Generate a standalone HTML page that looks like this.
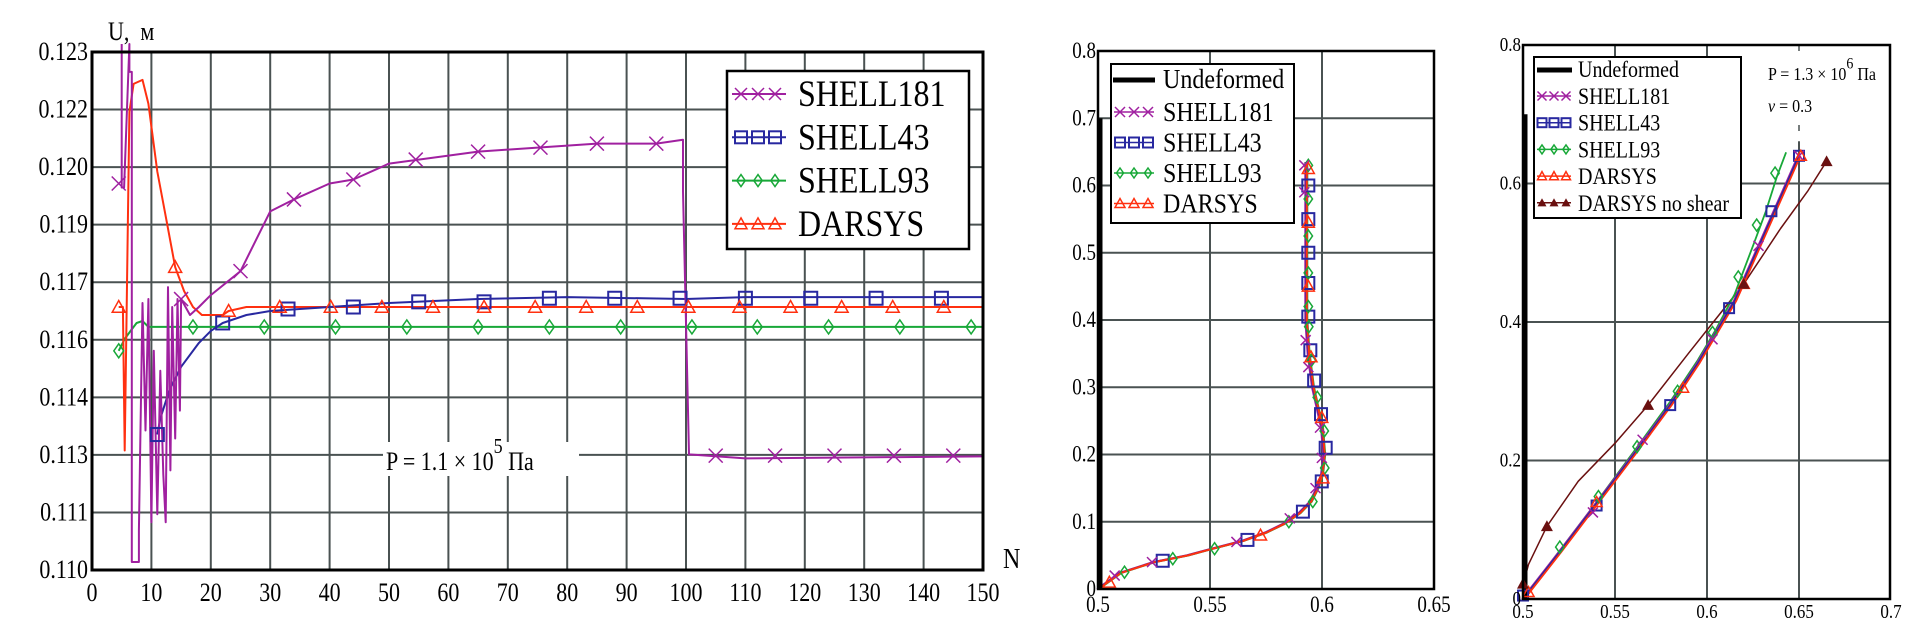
<!DOCTYPE html>
<html><head><meta charset="utf-8"><style>
html,body{margin:0;padding:0;background:#fff;width:1905px;height:633px;overflow:hidden}
svg{display:block}
text{font-family:"Liberation Serif","DejaVu Serif",serif;fill:#000}
</style></head><body>
<svg id="s" width="1905" height="633" xmlns="http://www.w3.org/2000/svg" font-family="Liberation Serif, serif"></svg>
<script>
const S=document.getElementById('s');let h='';
const P='#a020a0',B='#2828a0',G='#18a838',R='#ff3010',BR='#6a1010',GR='#4a5252';
const FF='font-family="Liberation Serif, serif"';
function line(x1,y1,x2,y2,c,w,extra){h+=`<line x1="${x1}" y1="${y1}" x2="${x2}" y2="${y2}" stroke="${c}" stroke-width="${w}" ${extra||''}/>`;}
function poly(pts,c,w){h+=`<polyline fill="none" stroke="${c}" stroke-width="${w}" stroke-linejoin="round" points="${pts.map(p=>p[0].toFixed(1)+','+p[1].toFixed(1)).join(' ')}"/>`;}
function txt(x,y,s,fs,anchor,sy,extra){h+=`<text ${FF} transform="translate(${x},${y}) scale(1,${sy||1.15})" font-size="${fs}" text-anchor="${anchor||'start'}" ${extra||''}>${s}</text>`;}
function mk(type,x,y,c,r){
 if(type=='x'){h+=`<path d="M${x-r},${y-r}L${x+r},${y+r}M${x-r},${y+r}L${x+r},${y-r}" stroke="${c}" stroke-width="1.5" fill="none"/>`;}
 else if(type=='s'){h+=`<rect x="${x-r}" y="${y-r}" width="${2*r}" height="${2*r}" stroke="${c}" stroke-width="2" fill="none"/>`;}
 else if(type=='d'){h+=`<path d="M${x},${y-r}L${x+r*0.7},${y}L${x},${y+r}L${x-r*0.7},${y}Z" stroke="${c}" stroke-width="1.5" fill="none"/>`;}
 else if(type=='t'){h+=`<path d="M${x},${y-r}L${x+r},${y+r*0.8}L${x-r},${y+r*0.8}Z" stroke="${c}" stroke-width="1.5" fill="none"/>`;}
 else if(type=='T'){h+=`<path d="M${x},${y-r}L${x+r},${y+r*0.8}L${x-r},${y+r*0.8}Z" fill="${c}"/>`;}
}
// ============ CHART 1 ============
const L1=92,R1=983,T1=52,B1=570;
const X1=n=>L1+n*(R1-L1)/150, Y1=u=>B1-(u-0.110)/0.013*(B1-T1);
for(let i=1;i<15;i++)line(X1(i*10),T1,X1(i*10),B1,GR,2);
for(let i=1;i<9;i++){const y=T1+i*(B1-T1)/9;line(L1,y,R1,y,GR,2);}
const c1=s=>s.map(p=>[X1(p[0]),Y1(p[1])]);
const purple=[[5,0.1232],[5,0.1196],[5.4,0.1196],[6.3,0.1232],[6.3,0.1225],[6.7,0.1225],[6.7,0.1102],[7.9,0.1102],[7.9,0.111],[8.5,0.1167],[9,0.1135],[9.5,0.1168],[10,0.1112],[10.4,0.1155],[11,0.1114],[11.5,0.115],[12,0.1124],[12.4,0.1112],[12.8,0.1171],[13.2,0.1125],[13.5,0.1166],[14,0.1133],[14.4,0.1168],[14.8,0.114],[15,0.1168],[16.5,0.1164],[18,0.1166],[20,0.1169],[25,0.1175],[30,0.1190],[34,0.1193],[40,0.1197],[44,0.1198],[50,0.1202],[55,0.1203],[65,0.1205],[75,0.1206],[85,0.1207],[95,0.1207],[99.5,0.1208],[99.5,0.1195],[100.5,0.1129],[110,0.1128],[150,0.11285]];
const blue=[[11,0.1134],[11.5,0.1138],[13,0.1145],[15,0.1151],[18,0.1157],[20,0.1160],[22,0.1162],[26,0.1164],[30,0.1165],[35,0.11655],[40,0.1166],[50,0.1167],[65,0.1168],[80,0.11685],[100,0.1168],[110,0.11685],[150,0.11685]];
const green=[[4.5,0.1155],[5.5,0.1158],[6.5,0.1160],[7.5,0.1162],[8.5,0.11625],[9.5,0.1161],[12,0.1161],[150,0.1161]];
const orange=[[4.5,0.1166],[5.2,0.1166],[5.5,0.1130],[6.3,0.1215],[7,0.1222],[8.5,0.1223],[9.5,0.1217],[11,0.1200],[12.5,0.1188],[14,0.1176],[15.5,0.1170],[17,0.1166],[18.5,0.1164],[20,0.1164],[22,0.1164],[23,0.1165],[26,0.1166],[30,0.1166],[150,0.1166]];
poly(c1(green),G,2);poly(c1(orange),R,2);poly(c1(blue),B,2);poly(c1(purple),P,2);
[4.5,15,25,34,44,54.5,65,75.5,85,95,105,115,125,135,145].forEach(n=>{const u=n<5?0.1197:n<18?0.1168:n<100?({25:0.1175,34:0.1193,44:0.1198,54.5:0.1203,65:0.1205,75.5:0.1206,85:0.1207,95:0.1207})[n]:0.11287;mk('x',X1(n),Y1(u),P,7);});
[11,22,33,44,55,66,77,88,99,110,121,132,143].forEach(n=>{const u=n==11?0.1134:n==22?0.1162:n==33?0.11655:n==44?0.1166:n<70?0.11673:0.11682;mk('s',X1(n),Y1(u),B,6.5);});
[4.5,17,29,41,53,65,77,89,101,112,124,136,148].forEach(n=>mk('d',X1(n),Y1(n<5?0.1155:0.1161),G,7));
[4.5,14].forEach((n,i)=>mk('t',X1(n),Y1(i?0.1176:0.1166),R,6.5));
for(let n=23;n<=150;n+=8.6)mk('t',X1(n),Y1(n<25?0.1165:0.1166),R,6.5);
h+=`<rect x="${L1}" y="${T1}" width="${R1-L1}" height="${B1-T1}" fill="none" stroke="#000" stroke-width="3"/>`;
['0.110','0.111','0.113','0.114','0.116','0.117','0.119','0.120','0.122','0.123'].forEach((s,i)=>txt(88,B1-i*(B1-T1)/9+8,s,22,'end',1.2));
for(let i=0;i<=15;i++)txt(X1(i*10),601,String(i*10),22,'middle',1.2);
txt(108,40,'U,&#160; м',22,'start',1.2);
txt(1003,568,'N',24,'start',1.2);
h+=`<rect x="383" y="442" width="196" height="34" fill="#fff"/>`;
h+=`<text ${FF} transform="translate(386,470) scale(1,1.2)" font-size="22">P = 1.1 × 10<tspan dy="-14" font-size="18">5</tspan><tspan dy="14"> Па</tspan></text>`;
h+=`<rect x="727" y="71" width="242" height="178" fill="#fff" stroke="#000" stroke-width="2.5"/>`;
const leg1=[['x',P,'SHELL181'],['s',B,'SHELL43'],['d',G,'SHELL93'],['t',R,'DARSYS']];
leg1.forEach((e,i)=>{const y=94+i*43.3;line(732,y,786,y,e[1],2);[741,758,775].forEach(x=>mk(e[0],x,y,e[1],6));txt(798,y+12,e[2],32,'start',1.15);});
// ============ CHART 2 ============
const L2=1098,R2=1434,T2=51,B2=589;
const X2=x=>L2+(x-0.5)/0.05*(R2-L2)/3, Y2=y=>B2-y*(B2-T2)/0.8;
[0.55,0.6].forEach(x=>line(X2(x),T2,X2(x),B2,GR,2));
for(let i=1;i<8;i++)line(L2,Y2(i/10),R2,Y2(i/10),GR,2);
const curve2=[[0.5,0],[0.51,0.024],[0.525,0.04],[0.54,0.05],[0.55,0.059],[0.565,0.072],[0.575,0.084],[0.583,0.097],[0.59,0.113],[0.595,0.13],[0.598,0.15],[0.6,0.17],[0.601,0.2],[0.6,0.24],[0.598,0.27],[0.596,0.3],[0.594,0.35],[0.593,0.4],[0.593,0.5],[0.593,0.6],[0.593,0.635]];
const c2=(s,dx)=>s.map(p=>[X2(p[0])+(dx||0),Y2(p[1])]);
poly(c2(curve2,1),G,2);poly(c2(curve2,-1),P,2);poly(c2(curve2,0),B,2);poly(c2(curve2,0.5),R,2);
line(L2+2,Y2(0),L2+2,Y2(0.7),'#000',5);
function at2(y){for(let i=1;i<curve2.length;i++){const a=curve2[i-1],b=curve2[i];if(y<=b[1]){const t=(y-a[1])/(b[1]-a[1]);return[X2(a[0]+t*(b[0]-a[0])),Y2(y)];}}return[X2(0.593),Y2(y)];}
[0.042,0.073,0.115,0.16,0.21,0.26,0.31,0.355,0.405,0.455,0.5,0.55,0.6].forEach(y=>{const p=at2(y);mk('s',p[0]+2,p[1],B,6);});
[0.025,0.045,0.06,0.1,0.13,0.18,0.235,0.285,0.34,0.39,0.42,0.47,0.525,0.58,0.63].forEach(y=>{const p=at2(y);mk('d',p[0]+2,p[1],G,6);});
[0.02,0.04,0.07,0.105,0.15,0.195,0.24,0.33,0.37,0.59,0.63].forEach(y=>{const p=at2(y);mk('x',p[0]-2,p[1],P,5);});
[0.01,0.08,0.165,0.255,0.345,0.45,0.545,0.625].forEach(y=>{const p=at2(y);mk('t',p[0]+2,p[1],R,6);});
h+=`<rect x="${L2}" y="${T2}" width="${R2-L2}" height="${B2-T2}" fill="none" stroke="#000" stroke-width="2.5"/>`;
['0','0.1','0.2','0.3','0.4','0.5','0.6','0.7','0.8'].forEach((s,i)=>txt(1096,Y2(i/10)+7,s,19,'end',1.2));
['0.5','0.55','0.6','0.65'].forEach((s,i)=>txt(L2+i*(R2-L2)/3,612,s,19,'middle',1.2));
h+=`<rect x="1111" y="64" width="183" height="159" fill="#fff" stroke="#000" stroke-width="2"/>`;
line(1113,80,1155,80,'#000',5);
txt(1163,88,'Undeformed',24,'start',1.15);
leg1.forEach((e,i)=>{const y=112+i*30.5;line(1114,y,1154,y,e[1],1.5);[1120,1134,1148].forEach(x=>mk(e[0],x,y,e[1],5));txt(1163,y+9,e[2],24,'start',1.15);});
// ============ CHART 3 ============
const L3=1523,R3=1890,T3=45,B3=599;
const X3=x=>L3+(x-0.5)/0.05*92, Y3=y=>B3-y*(B3-T3)/0.8;
[0.55,0.6].forEach(x=>line(X3(x),T3,X3(x),B3,GR,2));
line(X3(0.65),Y3(0.66),X3(0.65),B3,GR,2);line(X3(0.65),T3,X3(0.65),Y3(0.66),GR,1.5,'stroke-dasharray="6,10"');
[0.2,0.4,0.6].forEach(y=>line(L3,Y3(y),R3,Y3(y),GR,2));
const base3=[[0.5,0],[0.52,0.068],[0.54,0.138],[0.56,0.208],[0.58,0.28],[0.595,0.34],[0.605,0.385],[0.615,0.43],[0.625,0.49],[0.635,0.55],[0.645,0.61],[0.65,0.64]];
const green3=[[0.5,0],[0.52,0.07],[0.54,0.14],[0.56,0.212],[0.58,0.285],[0.595,0.345],[0.605,0.39],[0.615,0.44],[0.625,0.51],[0.632,0.56],[0.638,0.61],[0.643,0.645]];
const brown3=[[0.5,0],[0.5,0.02],[0.503,0.05],[0.513,0.105],[0.53,0.17],[0.55,0.225],[0.568,0.28],[0.59,0.355],[0.605,0.405],[0.62,0.455],[0.64,0.535],[0.655,0.59],[0.665,0.632]];
const c3=(s,dx)=>s.map(p=>[X3(p[0])+(dx||0),Y3(p[1])]);
poly(c3(brown3),BR,1.5);poly(c3(green3),G,1.8);poly(c3(base3,-1),P,1.8);poly(c3(base3,0),B,1.8);poly(c3(base3,1.5),R,1.8);
line(L3+2,Y3(0),L3+2,Y3(0.7),'#000',5);
[[0.5,0.005],[0.54,0.135],[0.58,0.28],[0.612,0.42],[0.635,0.56],[0.65,0.64]].forEach(p=>mk('s',X3(p[0]),Y3(p[1]),B,5));
[[0.52,0.075],[0.541,0.148],[0.562,0.22],[0.584,0.3],[0.603,0.385],[0.617,0.465],[0.627,0.54],[0.637,0.615]].forEach(p=>mk('d',X3(p[0]),Y3(p[1]),G,6));
[[0.538,0.125],[0.565,0.23],[0.603,0.375],[0.628,0.51],[0.65,0.64]].forEach(p=>mk('x',X3(p[0]),Y3(p[1]),P,5));
[[0.503,0.01],[0.54,0.14],[0.587,0.305],[0.62,0.455],[0.651,0.64]].forEach(p=>mk('t',X3(p[0]),Y3(p[1]),R,5.5));
[[0.5,0.022],[0.513,0.105],[0.568,0.28],[0.62,0.455],[0.665,0.632]].forEach(p=>mk('T',X3(p[0]),Y3(p[1]),BR,6));
h+=`<rect x="${L3}" y="${T3}" width="${R3-L3}" height="${B3-T3}" fill="none" stroke="#000" stroke-width="2.5"/>`;
['0','0.2','0.4','0.6','0.8'].forEach((s,i)=>txt(1521,Y3(i*0.2)+6,s,17,'end',1.2));
['0.5','0.55','0.6','0.65','0.7'].forEach((s,i)=>txt(L3+i*92,618,s,17,'middle',1.2));
h+=`<rect x="1534" y="57" width="207" height="161" fill="#fff" stroke="#000" stroke-width="2"/>`;
line(1537,70,1572,70,'#000',5);
txt(1578,77,'Undeformed',20,'start',1.15);
const leg3=[['x',P,'SHELL181'],['s',B,'SHELL43'],['d',G,'SHELL93'],['t',R,'DARSYS'],['T',BR,'DARSYS no shear']];
leg3.forEach((e,i)=>{const y=96+i*26.7;line(1537,y,1571,y,e[1],1.5);[1542,1554,1566].forEach(x=>mk(e[0],x,y,e[1],4.5));txt(1578,y+8,e[2],20,'start',1.15);});
h+=`<rect x="1762" y="60" width="126" height="60" fill="#fff"/>`;
h+=`<text ${FF} transform="translate(1768,80) scale(1,1.15)" font-size="16">P = 1.3 × 10<tspan dy="-10" font-size="14">6</tspan><tspan dy="10"> Па</tspan></text>`;
h+=`<text ${FF} transform="translate(1768,112) scale(1,1.15)" font-size="16"><tspan font-style="italic">ν</tspan> = 0.3</text>`;
S.innerHTML=h;
</script>
</body></html>
